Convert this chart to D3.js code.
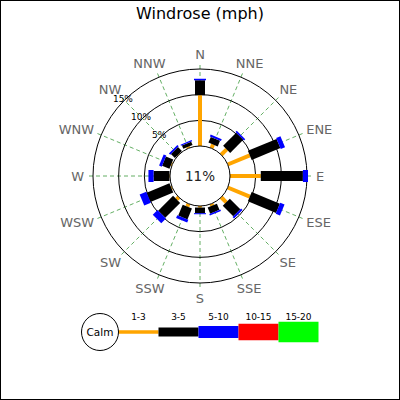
<!DOCTYPE html>
<html>
<head>
<meta charset="utf-8">
<script src="https://cdn.jsdelivr.net/npm/d3@7"></script>
<style>
  body { margin: 0; background: #fff; }
  text { font-family: "DejaVu Sans", sans-serif; }
</style>
</head>
<body>
<svg></svg>
<script>
// data
var directions = ["N","NNE","NE","ENE","E","ESE","SE","SSE","S","SSW","SW","WSW","W","WNW","NW","NNW"];
var speedRanges = ["1-3","3-5","5-10","10-15","15-20"];
var speed1to3  = [9.9, 0.8, 1.5, 4.65, 6.0, 4.65, 1.4, 0.4, 0.3, 0.6, 0.6, 0.2, 0.1, 0.2, 0.1, 0.3];
var speed3to5  = [2.9, 1.2, 3.6, 6.05, 8.2, 5.95, 2.9, 1.3, 1.1, 2.3, 4.1, 4.8, 3.1, 1.55, 1.1, 0.7];
var speed5to10 = [0.3, 0.4, 0.35, 0.9, 1.0, 0.9, 0.4, 0.3, 0.2, 0.6, 1.3, 1.4, 1.0, 0.55, 0.35, 0.25];
var ringTicks = [5, 10, 15];
var calmPct = 11;

var colors = ["orange", "black", "blue", "red", "#00ff00"];
var widths = [4, 10, 12, 16, 20];

var W = 400, H = 400, cx = 200, cy = 176;
var svg = d3.select("svg").attr("width", W).attr("height", H);

// frame
svg.append("rect").attr("x", 0.5).attr("y", 0.5).attr("width", W - 1).attr("height", H - 1)
  .attr("fill", "#fff").attr("stroke", "#000");

// title
svg.append("text").attr("x", 200).attr("y", 19).attr("text-anchor", "middle")
  .attr("font-size", "16px").attr("fill", "#000").text("Windrose (mph)");

var r = d3.scaleLinear().domain([0, 15]).range([30, 107]);
var ang = d3.scalePoint().domain(directions).range([0, 360 - 22.5]);

function px(a, rad) { return cx + rad * Math.sin(a * Math.PI / 180); }
function py(a, rad) { return cy - rad * Math.cos(a * Math.PI / 180); }

// dashed grid lines
svg.selectAll("line.grid").data(directions).enter().append("line")
  .attr("class", "grid")
  .attr("x1", function (d) { return px(ang(d), r(0)); })
  .attr("y1", function (d) { return py(ang(d), r(0)); })
  .attr("x2", function (d) { return px(ang(d), 111); })
  .attr("y2", function (d) { return py(ang(d), 111); })
  .attr("stroke", "#3c9a3c").attr("stroke-width", 0.8).attr("stroke-dasharray", "4,3");

// rings
svg.selectAll("circle.ring").data(ringTicks).enter().append("circle")
  .attr("class", "ring")
  .attr("cx", cx).attr("cy", cy)
  .attr("r", function (d) { return r(d); })
  .attr("fill", "none").attr("stroke", "#000").attr("stroke-width", 1);

// ring labels along NW
svg.selectAll("text.ring").data(ringTicks).enter().append("text")
  .attr("class", "ring")
  .attr("x", function (d) { return px(315, r(d) + 2); })
  .attr("y", function (d) { return py(315, r(d) + 2); })
  .attr("text-anchor", "middle").attr("dominant-baseline", "central")
  .attr("font-size", "9px").attr("fill", "#000")
  .text(function (d) { return d + "%"; });

// stacked bars
var series = [speed1to3, speed3to5, speed5to10];
var segs = [];
directions.forEach(function (d, i) {
  var start = 0;
  series.forEach(function (s, k) {
    segs.push({ dir: d, k: k, from: start, to: start + s[i] });
    start += s[i];
  });
});

svg.selectAll("line.bar").data(segs).enter().append("line")
  .attr("class", "bar")
  .attr("x1", function (d) { return px(ang(d.dir), r(d.from)); })
  .attr("y1", function (d) { return py(ang(d.dir), r(d.from)); })
  .attr("x2", function (d) { return px(ang(d.dir), r(d.to)); })
  .attr("y2", function (d) { return py(ang(d.dir), r(d.to)); })
  .attr("stroke", function (d) { return colors[d.k]; })
  .attr("stroke-width", function (d) { return widths[d.k]; })
  .attr("stroke-linecap", "butt");

// calm circle
svg.append("circle").attr("cx", cx).attr("cy", cy).attr("r", r(0))
  .attr("fill", "#fff").attr("stroke", "#000");
svg.append("text").attr("x", cx).attr("y", cy).attr("text-anchor", "middle")
  .attr("dominant-baseline", "central").attr("font-size", "13.5px").attr("fill", "#222")
  .text(calmPct + "%");

// direction labels
svg.selectAll("text.dir").data(directions).enter().append("text")
  .attr("class", "dir")
  .attr("text-anchor", "middle").attr("dominant-baseline", "central")
  .attr("font-size", "13px").attr("fill", "#666")
  .text(function (d) { return d; })
  .each(function (d) {
    var a = ang(d), w = this.getComputedTextLength();
    var s = Math.sin(a * Math.PI / 180), c = Math.cos(a * Math.PI / 180);
    d3.select(this)
      .attr("x", px(a, 116) + s * w / 2)
      .attr("y", py(a, 116) - c * 6);
  });

// legend
var lx = d3.scaleBand().domain(speedRanges).range([118.5, 318.5]);
var ly = 332;
svg.selectAll("line.leg").data(speedRanges).enter().append("line")
  .attr("class", "leg")
  .attr("x1", function (d) { return lx(d); })
  .attr("x2", function (d) { return lx(d) + lx.bandwidth(); })
  .attr("y1", ly).attr("y2", ly)
  .attr("stroke", function (d, i) { return colors[i]; })
  .attr("stroke-width", function (d, i) { return [3.5, 9, 12, 16.5, 20.5][i]; });
svg.selectAll("text.leg").data(speedRanges).enter().append("text")
  .attr("class", "leg")
  .attr("x", function (d) { return lx(d) + lx.bandwidth() / 2; })
  .attr("y", 319.5)
  .attr("text-anchor", "middle").attr("font-size", "9px").attr("fill", "#000")
  .text(function (d) { return d; });
svg.append("circle").attr("cx", 100).attr("cy", ly).attr("r", 18.5)
  .attr("fill", "#fff").attr("stroke", "#000");
svg.append("text").attr("x", 100).attr("y", ly).attr("text-anchor", "middle")
  .attr("dominant-baseline", "central").attr("font-size", "10.5px").attr("fill", "#000")
  .text("Calm");
</script>
</body>
</html>
